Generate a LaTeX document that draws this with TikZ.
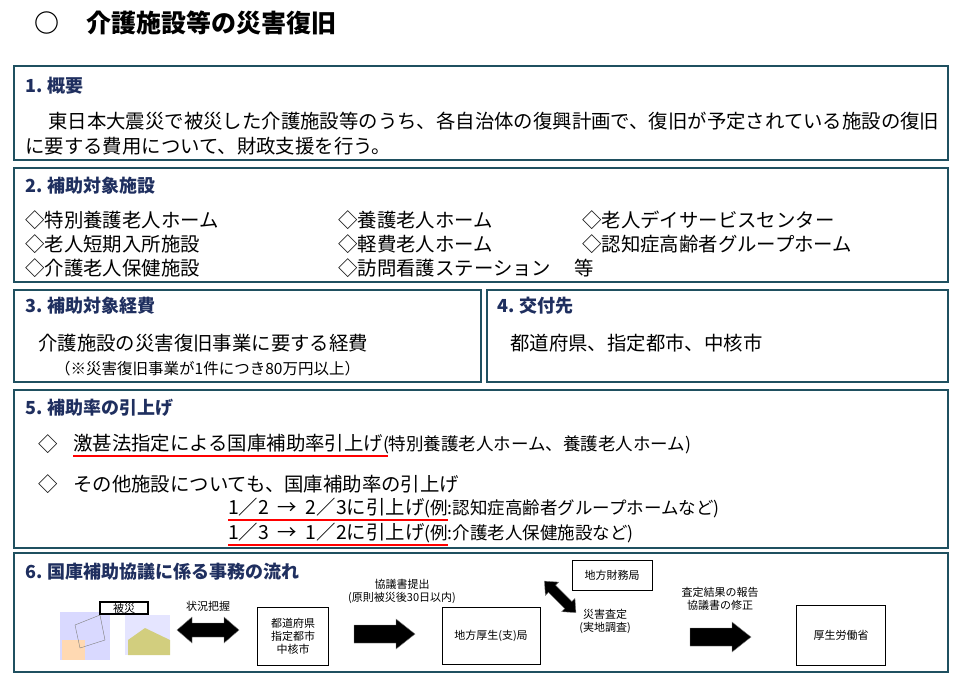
\documentclass[tikz,border=0pt]{standalone}
\usepackage{fontspec}
\setmainfont{Noto Sans CJK JP}
\definecolor{bd}{HTML}{1F5060}
\definecolor{hd}{HTML}{1F2F5F}
\tikzset{sec/.style={draw=bd,line width=2.2pt},
hdr/.style={anchor=west,text=hd,font=\bfseries\fontsize{18}{20}\selectfont,inner sep=0},
txt/.style={anchor=west,font=\fontsize{19.4}{22}\selectfont,inner sep=0},
sm/.style={font=\fontsize{11}{13}\selectfont,inner sep=1pt,align=center},
fbox/.style={draw,thin,fill=white,sm,minimum width=#1},
ul/.style={red,line width=1.2pt}}
\newcommand{\bigarr}[2]{\fill[black,draw=gray] (#1-30,#2-9) -- (#1+12,#2-9) -- (#1+12,#2-15) -- (#1+31,#2) -- (#1+12,#2+15) -- (#1+12,#2+9) -- (#1-30,#2+9) -- cycle;}
\newcommand{\dblarr}[3]{\begin{scope}[shift={(#1,#2)},rotate=#3]\fill[black,draw=gray] (-31,0) -- (-16,-13) -- (-16,-7) -- (16,-7) -- (16,-13) -- (31,0) -- (16,13) -- (16,7) -- (-16,7) -- (-16,13) -- cycle;\end{scope}}
\begin{document}
\begin{tikzpicture}[x=1pt,y=-1pt]
\useasboundingbox (0,0) rectangle (963,675);
\node[anchor=west,inner sep=0,font=\bfseries\fontsize{25}{27}\selectfont] (title) at (34,23) {○\hspace{1.1em}介護施設等の災害復旧};
% 1
\draw[sec] (14,66) rectangle (948,160);
\node[hdr] (h1) at (25,86) {1. 概要};
\node[txt] (t1a) at (48,121) {東日本大震災で被災した介護施設等のうち、各自治体の復興計画で、復旧が予定されている施設の復旧};
\node[txt] (t1b) at (25,146) {に要する費用について、財政支援を行う。};
% 2
\draw[sec] (14,168) rectangle (948,282);
\node[hdr] (h2) at (25,186) {2. 補助対象施設};
\node[txt] (a1) at (25,220) {◇特別養護老人ホーム};
\node[txt] (a2) at (25,244) {◇老人短期入所施設};
\node[txt] (a3) at (25,268) {◇介護老人保健施設};
\node[txt] (b1) at (338,220) {◇養護老人ホーム};
\node[txt] (b2) at (338,244) {◇軽費老人ホーム};
\node[txt] (b3) at (338,268) {◇訪問看護ステーション\hspace{1.2em}等};
\node[txt] (c1) at (582,220) {◇老人デイサービスセンター};
\node[txt] (c2) at (582,244) {◇認知症高齢者グループホーム};
% 3,4
\draw[sec] (14,290) rectangle (481,382);
\draw[sec] (487,290) rectangle (948,382);
\node[hdr] (h3) at (25,306) {3. 補助対象経費};
\node[txt] (t3) at (38,343) {介護施設の災害復旧事業に要する経費};
\node[anchor=west,inner sep=0,font=\fontsize{15.5}{17}\selectfont] (t3b) at (55,369) {（※災害復旧事業が1件につき80万円以上）};
\node[hdr] (h4) at (497,306) {4. 交付先};
\node[txt] (t4) at (510,343) {都道府県、指定都市、中核市};
% 5
\draw[sec] (14,390) rectangle (948,548);
\node[hdr] (h5) at (25,408) {5. 補助率の引上げ};
\node[txt] (d1) at (38,444) {◇};
\node[txt] (e1) at (73,444) {激甚法指定による国庫補助率引上げ{\fontsize{17.5}{19}\selectfont (特別養護老人ホーム、養護老人ホーム)}};
\draw[ul] (73,456) -- (388,456);
\node[txt] (d2) at (38,484) {◇};
\node[txt] (e2) at (73,484) {その他施設についても、国庫補助率の引上げ};
\node[txt] (e3) at (228,508) {1／2\ \ →\ \ 2／3に引上げ{\fontsize{17.5}{19}\selectfont (例:認知症高齢者グループホームなど)}};
\draw[ul] (228,520) -- (448,520);
\node[txt] (e4) at (228,533) {1／3\ \ →\ \ 1／2に引上げ{\fontsize{17.5}{19}\selectfont (例:介護老人保健施設など)}};
\draw[ul] (228,545) -- (448,545);
% 6
\draw[sec] (14,553) rectangle (948,672);
\node[hdr] (h6) at (25,572) {6. 国庫補助協議に係る事務の流れ};
% pictures
\fill[blue!15] (60,612) rectangle (110,660);
\fill[orange!30] (62,640) rectangle (85,660);
\draw[gray] (75,625) -- (100,615) -- (105,640) -- (80,648) -- cycle;
\fill[blue!10] (125,615) rectangle (170,655);
\fill[olive!40] (128,640) -- (145,628) -- (170,640) -- (170,655) -- (128,655) -- cycle;
\node[draw,line width=1.5pt,fill=white,sm,minimum width=48pt] (hisai) at (124,608) {被災};
\dblarr{208}{630}{0}
\node[sm] (l1) at (208,606) {状況把握};
\node[fbox=71pt,minimum height=58pt] (pref) at (293,636) {都道府県\\指定都市\\中核市};
\bigarr{384}{634}
\node[sm] (l2) at (402,591) {協議書提出\\(原則被災後30日以内)};
\node[fbox=98pt,minimum height=57pt] (kyoku) at (491,636) {地方厚生(支)局};
\node[fbox=80pt,minimum height=30pt] (zaimu) at (612,575) {地方財務局};
\begin{scope}[scale=0.72]\dblarr{778}{829}{-45}\end{scope}
\node[sm] (l3) at (605,621) {災害査定\\(実地調査)};
\bigarr{720}{637}
\node[sm] (l4) at (720,599) {査定結果の報告\\協議書の修正};
\node[fbox=89pt,minimum height=60pt] (mhlw) at (841,635) {厚生労働省};
\end{tikzpicture}
\end{document}
